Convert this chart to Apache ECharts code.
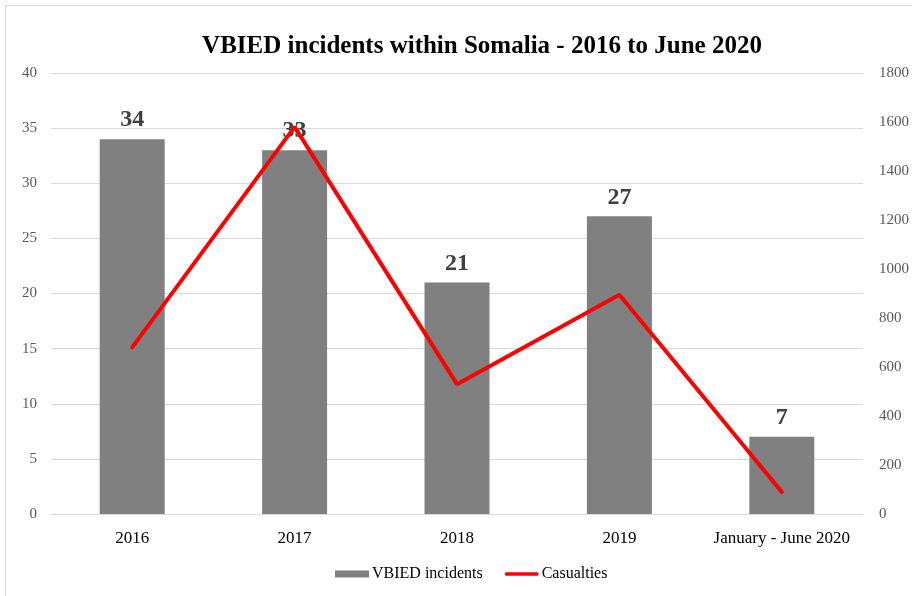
<!DOCTYPE html>
<html>
<head>
<meta charset="utf-8">
<script src="https://cdn.jsdelivr.net/npm/echarts@6/dist/echarts.min.js"></script>
<style>
  html, body { margin: 0; padding: 0; background: #fff; }
  #chart { width: 912px; height: 596px; }
</style>
</head>
<body>
<div id="chart"></div>
<script>
const categories = ['2016', '2017', '2018', '2019', 'January - June 2020'];
const incidents = [34, 33, 21, 27, 7];
const casualties = [680, 1580, 530, 895, 90];

const serif = '"Liberation Serif", "DejaVu Serif", serif';

let chart = echarts.init(document.getElementById('chart'));
let option = {
    animation: false,
    backgroundColor: '#fff',
    graphic: [{
        type: 'rect',
        shape: { x: 5.5, y: 5.5, width: 920, height: 600 },
        style: { fill: 'none', stroke: '#d9d9d9', lineWidth: 1 }
    }],
    title: {
        text: 'VBIED incidents within Somalia - 2016 to June 2020',
        left: 477,
        top: 29,
        textAlign: 'center',
        textStyle: { fontFamily: serif, fontSize: 25, fontWeight: 'bold', color: '#000' }
    },
    grid: { left: 51, right: 45, top: 73, bottom: 82 },
    legend: {
        bottom: 9,
        left: 330,
        itemGap: 22,
        itemWidth: 34,
        itemHeight: 7,
        textStyle: { fontFamily: serif, fontSize: 16, color: '#000', padding: [0, 0, 0, -2] },
        data: [
            { name: 'VBIED incidents', icon: 'rect' },
            { name: 'Casualties', icon: 'path://M0,0 L36,0 Q38,2 36,4 L0,4 Q-2,2 0,0 Z' }
        ]
    },
    xAxis: {
        type: 'category',
        data: categories,
        axisTick: { show: false },
        axisLine: { lineStyle: { color: '#d9d9d9' } },
        axisLabel: { interval: 0, fontFamily: serif, fontSize: 17, color: '#000', margin: 16 }
    },
    yAxis: [{
        type: 'value',
        min: 0, max: 40, interval: 5,
        axisLabel: { fontFamily: serif, fontSize: 15, color: '#595959', margin: 14 },
        splitLine: { lineStyle: { color: '#d9d9d9' } }
    }, {
        type: 'value',
        min: 0, max: 1800, interval: 200,
        axisLabel: {
            fontFamily: serif, fontSize: 15, color: '#595959', margin: 16,
            formatter: v => String(v)
        },
        splitLine: { show: false }
    }],
    series: [{
        name: 'VBIED incidents',
        type: 'bar',
        data: incidents,
        barWidth: 65,
        itemStyle: { color: '#808080' },
        label: {
            show: true,
            position: 'top',
            distance: 7,
            fontFamily: serif,
            fontSize: 24,
            fontWeight: 'bold',
            color: '#404040'
        }
    }, {
        name: 'Casualties',
        type: 'line',
        yAxisIndex: 1,
        data: casualties,
        symbol: 'none',
        z: 3,
        lineStyle: { color: '#ff0000', width: 4, cap: 'round' },
        itemStyle: { color: '#ff0000' }
    }]
};
chart.setOption(option);
</script>
</body>
</html>
